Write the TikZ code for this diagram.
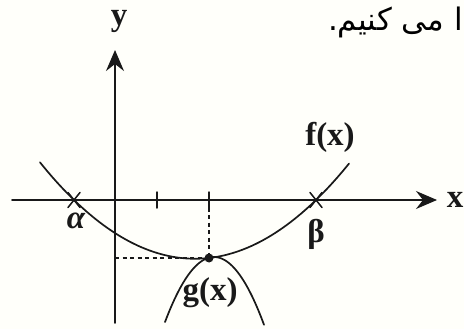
\documentclass[tikz,border=0pt]{standalone}
\usepackage{fontspec}
\setmainfont{Liberation Serif}
\newfontfamily\persianfont[Script=Arabic]{DejaVu Sans}
\TeXXeTstate=1
\usetikzlibrary{arrows.meta}
\begin{document}
\begin{tikzpicture}[x=1pt, y=-1pt, line cap=round, line join=round]

	% Colors
	\definecolor{paperA}{RGB}{255,255,250}
	\definecolor{inkA}{RGB}{25,25,25}

	\tikzset{
		axisA/.style={line width=1.7pt, draw=inkA, -{Stealth[length=21pt,width=18pt,inset=7pt]}},
		curve/.style={line width=1.7pt, draw=inkA},
		guide/.style={line width=1.5pt, draw=inkA, dash pattern=on 4pt off 3.5pt, line cap=butt},
		cross/.style={line width=1.5pt, draw=inkA},
		lab/.style={font=\fontsize{33}{36}\selectfont\bfseries, inner sep=0pt, text=inkA},
	}

	% --- Frame
	\fill[paperA] (0,0) rectangle (464,329);
	\useasboundingbox (0,0) rectangle (464,329);

	% --- Points
	\coordinate (xL) at (12,200);
	\coordinate (xR) at (437,200);
	\coordinate (yB) at (115,323);
	\coordinate (yT) at (115,50);
	\coordinate (rootA) at (74,200);
	\coordinate (rootB) at (316,200);
	\coordinate (tickA) at (157,200);
	\coordinate (tickB) at (209,200);
	\coordinate (touch) at (209,258);
	\coordinate (touchY) at (115,258);

	% --- Axes
	\draw[axisA] (xL) -- (xR);
	\draw[axisA] (yB) -- (yT);
	\node[lab] (xlab) at (455,200) {x};
	\node[lab] (ylab) at (119,21) {y};

	% --- Ticks and roots
	\foreach \t in {tickA,tickB}
		\draw[cross] (\t) ++(0,-8) -- ++(0,16);
	\foreach \r in {rootA,rootB}
		\draw[cross] (\r) ++(-6,-7.5) -- ++(12,15) (\r) ++(6,-7.5) -- ++(-12,15);

	% --- Dashed guides
	\draw[guide] (touchY) -- (touch);
	\draw[guide] (tickB) -- (touch);

	% --- Curves
	\draw[curve] plot[domain=40:349, samples=80] (\x, {200+0.00401*(\x-74)*(316-\x)});
	\draw[curve] plot[domain=165:264, samples=60] (\x, {257+0.0271*(\x-214)^2});
	\fill[inkA] (touch) circle[radius=4.5];

	% --- Labels
	\node[lab, font=\fontsize{33}{36}\selectfont\bfseries\itshape] (alab) at (76,221) {α};
	\node[lab] (blab) at (316,234) {β};
	\node[lab] (flab) at (330,137) {f(x)};
	\node[lab] (glab) at (210,293) {g(x)};

	\node[font=\persianfont\fontsize{31}{34}\selectfont, anchor=east, inner sep=0pt] (note) at (463,22) {\beginR ا می کنیم.\endR};

\end{tikzpicture}
\end{document}
